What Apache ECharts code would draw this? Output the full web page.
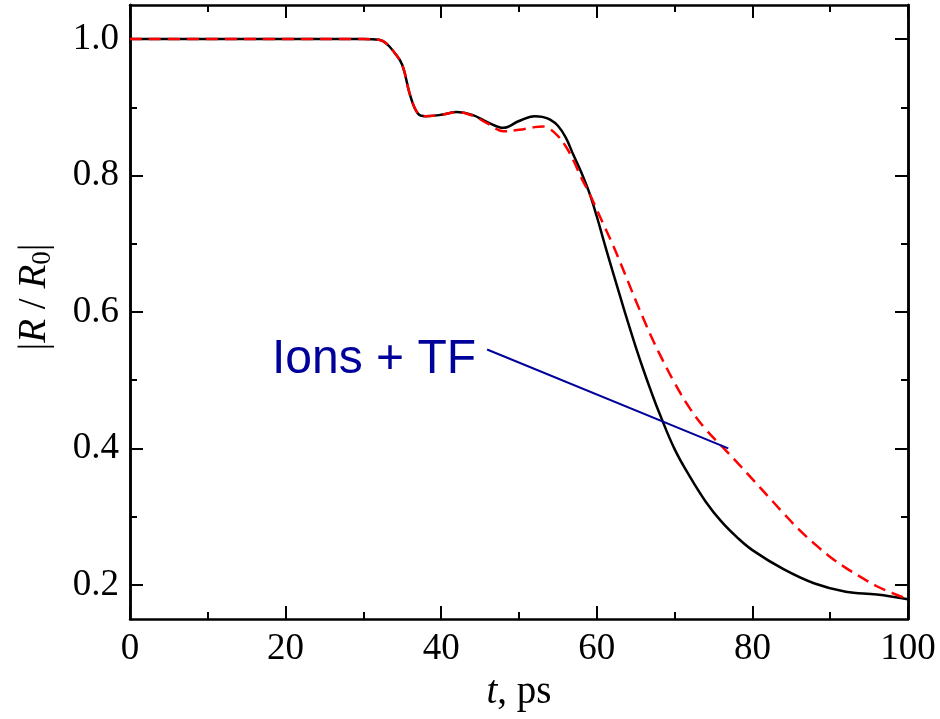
<!DOCTYPE html>
<html>
<head>
<meta charset="utf-8">
<script src="https://cdn.jsdelivr.net/npm/echarts@6/dist/echarts.min.js"></script>
<style>
  html, body { margin: 0; padding: 0; background: #fff; }
  #chart { width: 940px; height: 719px; }
</style>
</head>
<body>
<div id="chart"></div>
<script>
  // time, ps
  const tSolid = [0, 30, 32, 33, 34, 35, 36, 37, 38, 40, 42, 44, 46, 48, 50, 52, 53, 54, 55, 56, 57, 58, 59, 60,
    61, 62, 63, 64, 65, 66, 67, 68, 70, 72, 74, 76, 78, 80, 84, 88, 92, 96, 100];
  // |R/R0|, solid black curve
  const rSolid = [1.0, 1.0, 0.999, 0.993, 0.98, 0.962, 0.918, 0.891, 0.887, 0.889, 0.893, 0.889, 0.878, 0.870, 0.880, 0.887, 0.886, 0.882, 0.873, 0.856, 0.830, 0.805, 0.776, 0.740,
    0.700, 0.661, 0.623, 0.585, 0.549, 0.515, 0.483, 0.453, 0.399, 0.358, 0.322, 0.293, 0.270, 0.251, 0.223, 0.202, 0.190, 0.186, 0.179];

  const tDashed = [0, 30, 32, 33, 34, 35, 36, 37, 38, 40, 42, 44, 46, 48, 50, 52, 53, 54, 55, 56, 57, 58, 59, 60,
    61, 62, 63, 64, 65, 66, 67, 68, 70, 72, 74, 76, 78, 80, 82, 84, 86, 88, 90, 92, 94, 96, 98, 100];
  // |R/R0|, red dashed curve
  const rDashed = [1.0, 1.0, 0.999, 0.993, 0.98, 0.962, 0.918, 0.891, 0.887, 0.889, 0.893, 0.888, 0.876, 0.865, 0.867, 0.871, 0.872, 0.868, 0.858, 0.843, 0.822, 0.797, 0.775, 0.750,
    0.725, 0.700, 0.673, 0.645, 0.617, 0.590, 0.564, 0.540, 0.496, 0.458, 0.428, 0.404, 0.380, 0.355, 0.330, 0.305, 0.281, 0.260, 0.241, 0.225, 0.211, 0.198, 0.188, 0.179];

  const yMajor = [0.2, 0.4, 0.6, 0.8, 1.0];
  const yMinor = [0.3, 0.5, 0.7, 0.9];

  // annotation "Ions + TF" pointer, in data units
  const pointerFrom = [45.9, 0.545];
  const pointerTo = [76.9, 0.400];

  const serif = 'Liberation Serif, Times New Roman, serif';
  const frame = {lineStyle: {color: '#000', width: 2.5}};

  function zip(xs, ys) {
    return xs.map((x, i) => [x, ys[i]]);
  }

  function xAxisOf(pos, labels) {
    return {
      type: 'value', position: pos, min: 0, max: 100, interval: 20,
      axisLine: frame,
      axisTick: {inside: true, length: 13, lineStyle: {width: 2}},
      minorTick: {show: true, splitNumber: 2, length: 7, lineStyle: {color: '#000', width: 2}},
      axisLabel: {show: labels, color: '#000', fontFamily: serif, fontSize: 37, margin: 12},
      splitLine: {show: false}
    };
  }

  function yAxisOf(pos, values, len, labels) {
    return {
      type: 'value', position: pos, min: 0.15, max: 1.05,
      axisLine: frame,
      axisTick: {inside: true, length: len, customValues: values, lineStyle: {width: 2}},
      axisLabel: {
        show: labels, customValues: values, color: '#000', fontFamily: serif, fontSize: 37, margin: 11,
        formatter: v => v.toFixed(1)
      },
      splitLine: {show: false}
    };
  }

  const chart = echarts.init(document.getElementById('chart'));

  const xBottom = xAxisOf('bottom', true);
  xBottom.name = '{i|t}, ps';
  xBottom.nameLocation = 'middle';
  xBottom.nameGap = 54;
  xBottom.nameTextStyle = {
    color: '#000', fontFamily: serif, fontSize: 39,
    rich: {i: {fontStyle: 'italic', fontFamily: serif, fontSize: 39}}
  };

  const yLeft = yAxisOf('left', yMajor, 13, true);
  yLeft.name = '|{i|R} / {i|R}{s|0}|';
  yLeft.nameLocation = 'middle';
  yLeft.nameGap = 74;
  yLeft.nameRotate = 90;
  yLeft.nameTextStyle = {
    color: '#000', fontFamily: serif, fontSize: 39,
    padding: [0, 0, 0, 30],
    rich: {
      i: {fontStyle: 'italic', fontFamily: serif, fontSize: 39},
      s: {fontFamily: serif, fontSize: 27, verticalAlign: 'bottom', padding: [16, 0, 0, 0]}
    }
  };

  chart.setOption({
    animation: false,
    backgroundColor: '#fff',
    grid: {left: 130, right: 32, top: 5, bottom: 100, containLabel: false, outerBoundsMode: 'none'},
    xAxis: [xBottom, xAxisOf('top', false)],
    yAxis: [
      yLeft,
      yAxisOf('left', yMinor, 7, false),
      yAxisOf('right', yMajor, 13, false),
      yAxisOf('right', yMinor, 7, false)
    ],
    series: [
      {
        name: 'Ions + TF (solid)', type: 'line', data: zip(tSolid, rSolid),
        showSymbol: false, smooth: 0.4,
        lineStyle: {color: '#000', width: 2.5}
      },
      {
        name: 'dashed', type: 'line', data: zip(tDashed, rDashed),
        showSymbol: false, smooth: 0.4,
        lineStyle: {color: '#ff0000', width: 2.5, type: [12, 7]}
      },
      {
        name: 'pointer', type: 'line', data: [], silent: true,
        markLine: {
          silent: true, symbol: 'none', animation: false,
          label: {show: false},
          lineStyle: {color: '#00009a', width: 2, type: 'solid'},
          data: [[{coord: pointerFrom}, {coord: pointerTo}]]
        }
      }
    ],
    graphic: [{
      type: 'text', left: 272, top: 336,
      style: {
        text: 'Ions + TF', fill: '#00009a',
        font: '48px "Liberation Sans", Arial, sans-serif'
      }
    }]
  });
</script>
</body>
</html>
